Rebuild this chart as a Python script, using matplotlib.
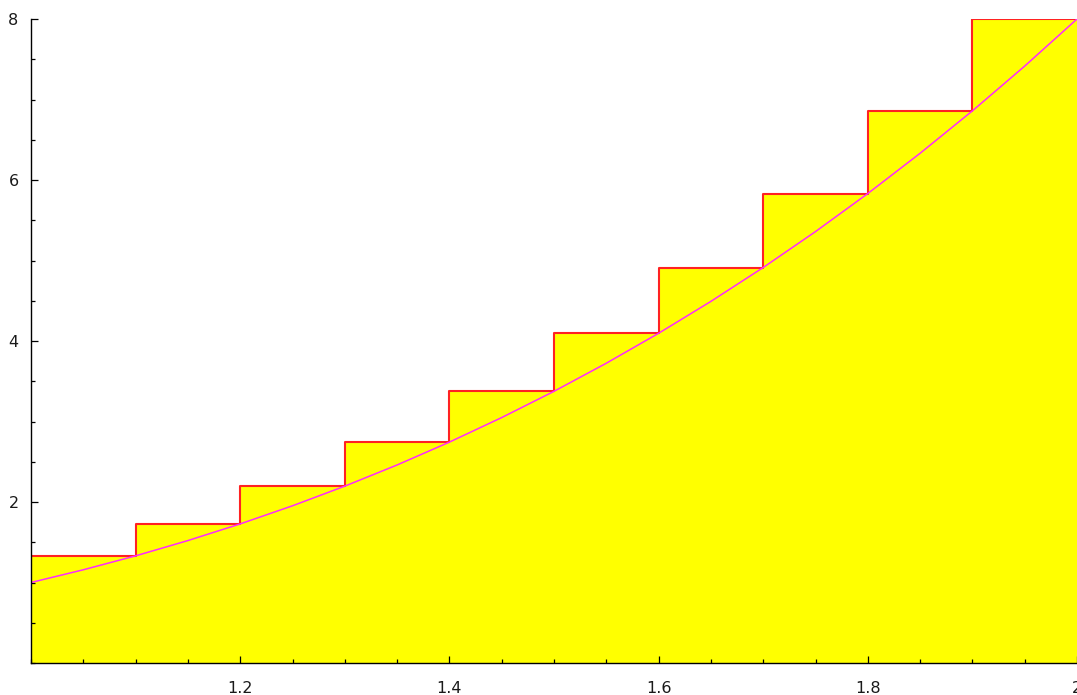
"""
Right-endpoint Riemann sum for y = x^3 on [1, 2] with ten subintervals.
Draws the filled step rectangles, the step outline and the curve itself.
"""

import matplotlib.pyplot as plt
import numpy as np
from matplotlib.ticker import MultipleLocator

# Subinterval edges and the right-endpoint heights of each rectangle
STEP_EDGES = [1.0, 1.1, 1.2, 1.3, 1.4, 1.5, 1.6, 1.7, 1.8, 1.9, 2.0]
STEP_HEIGHTS = [1.331, 1.728, 2.197, 2.744, 3.375, 4.096, 4.913, 5.832, 6.859, 8.0]

# Sampled curve values
CURVE_X = [1.00, 1.05, 1.10, 1.15, 1.20, 1.25, 1.30, 1.35, 1.40, 1.45, 1.50,
           1.55, 1.60, 1.65, 1.70, 1.75, 1.80, 1.85, 1.90, 1.95, 2.00]
CURVE_Y = [1.000, 1.158, 1.331, 1.521, 1.728, 1.953, 2.197, 2.460, 2.744, 3.049, 3.375,
           3.724, 4.096, 4.492, 4.913, 5.359, 5.832, 6.332, 6.859, 7.415, 8.000]

X_TICKS = [1.2, 1.4, 1.6, 1.8, 2.0]
X_TICK_LABELS = ["1.2", "1.4", "1.6", "1.8", "2"]
Y_TICKS = [2, 4, 6, 8]
Y_TICK_LABELS = ["2", "4", "6", "8"]


def main():
    fig = plt.figure(figsize=(10.77, 6.95), dpi=100)
    ax = fig.add_axes([31 / 1077, 32 / 695, 1046 / 1077, 644 / 695])

    edges = np.array(STEP_EDGES)
    heights = np.array(STEP_HEIGHTS)

    # Filled rectangles
    ax.bar(edges[:-1], heights, width=np.diff(edges), align="edge",
           color="#ffff00", edgecolor="none", zorder=1)

    # Step outline across the rectangle tops
    ax.step(edges, np.append(heights, heights[-1]), where="post",
            color="#ff2222", lw=1.5, zorder=3)

    # The curve itself
    ax.plot(CURVE_X, CURVE_Y, color="#ff2bff", lw=1.1, zorder=4)

    ax.set_xlim(1.0, 2.0)
    ax.set_ylim(0.0, 8.0)

    ax.set_xticks(X_TICKS)
    ax.set_xticklabels(X_TICK_LABELS)
    ax.set_yticks(Y_TICKS)
    ax.set_yticklabels(Y_TICK_LABELS)
    ax.xaxis.set_minor_locator(MultipleLocator(0.05))
    ax.yaxis.set_minor_locator(MultipleLocator(0.5))

    ax.tick_params(which="both", direction="in", width=0.9, colors="black",
                   labelsize=11.5, labelcolor="#1a1a1a")
    ax.tick_params(which="major", length=5)
    ax.tick_params(which="minor", length=2.8)
    ax.tick_params(axis="x", which="major", pad=13)
    ax.tick_params(axis="y", which="major", pad=9)

    for side in ("top", "right"):
        ax.spines[side].set_visible(False)
    for side in ("left", "bottom"):
        ax.spines[side].set_linewidth(1.0)
        ax.spines[side].set_zorder(5)

    fig.savefig("out.png", dpi=100)
    plt.close(fig)


if __name__ == "__main__":
    main()
